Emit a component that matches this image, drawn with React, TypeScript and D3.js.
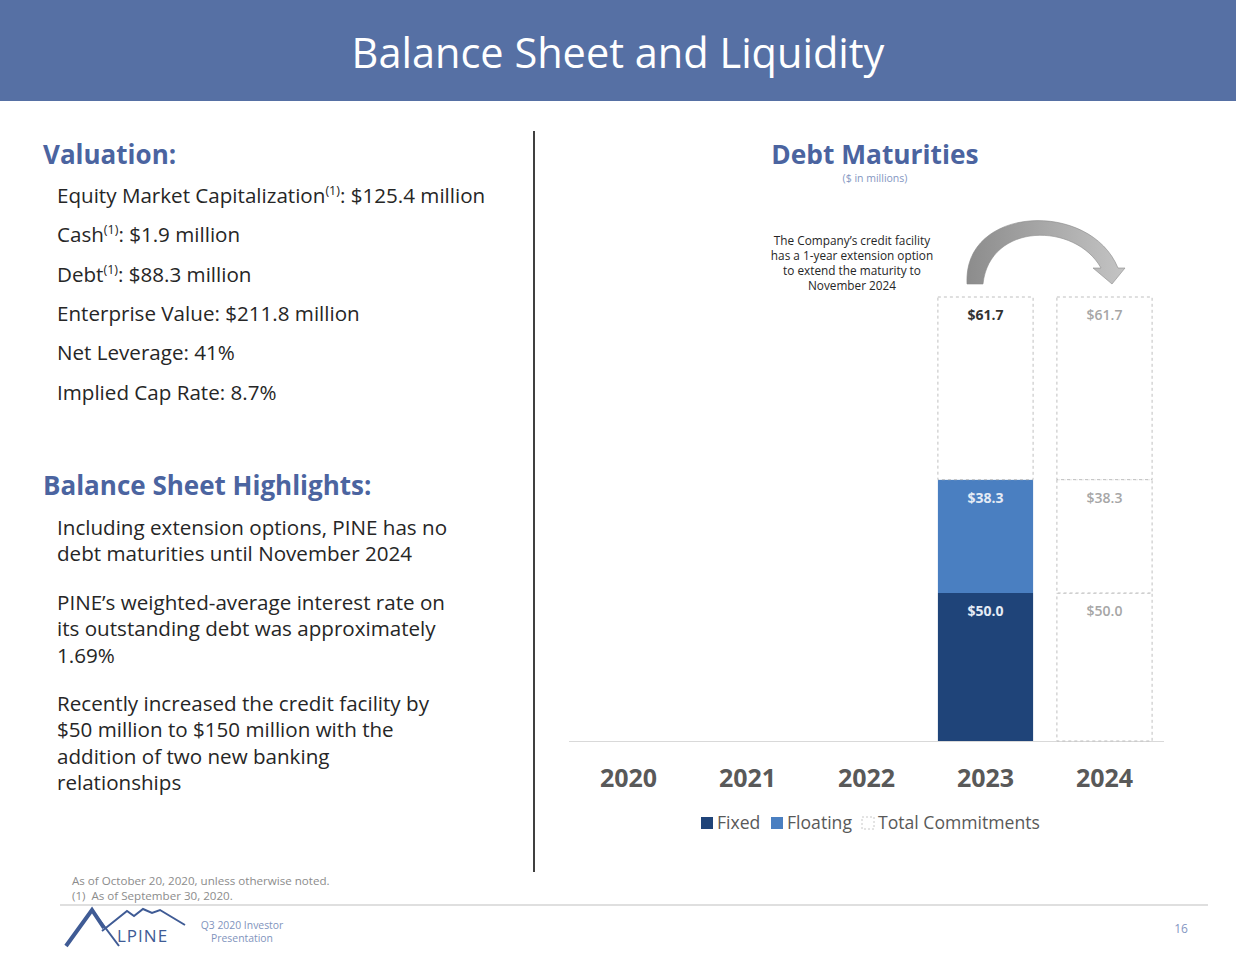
import React from "react";
import * as d3 from "d3";

// debt maturities ($ in millions)
const years = ["2020", "2021", "2022", "2023", "2024"];
const fixed = [0, 0, 0, 50.0, 0];
const floating = [0, 0, 0, 38.3, 0];
const remaining = [0, 0, 0, 61.7, 0];
// same facility shown again in 2024 with the extension option
const extFixed = [0, 0, 0, 0, 50.0];
const extFloating = [0, 0, 0, 0, 38.3];
const extRemaining = [0, 0, 0, 0, 61.7];

const legendItems = ["Fixed", "Floating", "Total Commitments"];

const valuation = [
  { label: "Equity Market Capitalization", sup: true, value: "$125.4 million" },
  { label: "Cash", sup: true, value: "$1.9 million" },
  { label: "Debt", sup: true, value: "$88.3 million" },
  { label: "Enterprise Value", sup: false, value: "$211.8 million" },
  { label: "Net Leverage", sup: false, value: "41%" },
  { label: "Implied Cap Rate", sup: false, value: "8.7%" },
];

const highlights = [
  ["Including extension options, PINE has no", "debt maturities until November 2024"],
  ["PINE\u2019s weighted-average interest rate on", "its outstanding debt was approximately", "1.69%"],
  [
    "Recently increased the credit facility by",
    "$50 million to $150 million with the",
    "addition of two new banking",
    "relationships",
  ],
];

const noteLines = [
  "The Company\u2019s credit facility",
  "has a 1-year extension option",
  "to extend the maturity to",
  "November 2024",
];

const W = 1236;
const H = 956;
const FONT = "'Open Sans', 'Noto Sans', sans-serif";
const NAVY = "#4b64a0";
const DARK = "#1f4479";
const MID = "#4a7fc1";

const keys = ["fixed", "extFixed", "floating", "extFloating", "remaining", "extRemaining"];
const segStyle: Record<string, { fill: string; dashed: boolean; label: string; weight: number }> = {
  fixed: { fill: DARK, dashed: false, label: "#e4ebf5", weight: 700 },
  floating: { fill: MID, dashed: false, label: "#e4ebf5", weight: 700 },
  remaining: { fill: "#fff", dashed: true, label: "#333", weight: 700 },
  extFixed: { fill: "#fff", dashed: true, label: "#a6a6a6", weight: 600 },
  extFloating: { fill: "#fff", dashed: true, label: "#a6a6a6", weight: 600 },
  extRemaining: { fill: "#fff", dashed: true, label: "#a6a6a6", weight: 600 },
};

export default function App() {
  const rows = years.map((year, i) => ({
    year,
    fixed: fixed[i],
    floating: floating[i],
    remaining: remaining[i],
    extFixed: extFixed[i],
    extFloating: extFloating[i],
    extRemaining: extRemaining[i],
  }));

  const x = d3
    .scaleBand()
    .domain(years)
    .range([569, 1164])
    .paddingInner(0.2)
    .paddingOuter(0.1);
  const y = d3.scaleLinear().domain([0, 150]).range([741, 297]);
  const series = d3.stack<any>().keys(keys)(rows);

  // arrow from the 2023 column to the 2024 column
  const ax0 = x("2023")! + x.bandwidth() / 2;
  const ax1 = x("2024")! + x.bandwidth() / 2;
  const arrowPath = `M ${ax0 - 18.5} 284 C ${ax0 - 23} 205, ${ax1 - 14} 200, ${ax1 + 13.5} 268
    L ${ax1 + 20.5} 268 L ${ax1 + 7.5} 284 L ${ax1 - 11.5} 268 L ${ax1 - 3.5} 268
    C ${ax1 - 29} 222, ${ax0 + 4} 222, ${ax0 - 2.5} 284 Z`;

  const legendX = [701, 771, 862];

  return (
    <svg width={W} height={H} style={{ position: "absolute", left: 0, top: 0 }} fontFamily={FONT}>
      <defs>
        <linearGradient id="arrowGrad" x1="0" x2="1" y1="0" y2="0">
          <stop offset="0%" stopColor="#8c8c8c" />
          <stop offset="100%" stopColor="#c4c4c4" />
        </linearGradient>
      </defs>
      <rect width={W} height={H} fill="#fff" />
      {/* header */}
      <rect width={W} height={101} fill="#5670a4" />
      <text x={618} y={68} textAnchor="middle" fill="#fff" fontSize={41.5}>
        Balance Sheet and Liquidity
      </text>

      {/* divider */}
      <line x1={534} x2={534} y1={131} y2={872} stroke="#404040" strokeWidth={2} />

      {/* left column */}
      <text x={43} y={164} fill={NAVY} fontSize={26} fontWeight={700}>
        Valuation:
      </text>
      {valuation.map((v, i) => (
        <text key={v.label} x={57} y={203 + i * 39.3} fill="#262626" fontSize={20.6}>
          {v.label}
          {v.sup ? (
            <>
              <tspan fontSize={12.5} dy={-8}>(1)</tspan>
              <tspan dy={8}>: {v.value}</tspan>
            </>
          ) : (
            <tspan>: {v.value}</tspan>
          )}
        </text>
      ))}

      <text x={43} y={495} fill={NAVY} fontSize={26} fontWeight={700}>
        Balance Sheet Highlights:
      </text>
      {highlights.map((para, pi) =>
        para.map((line, li) => (
          <text
            key={pi + "-" + li}
            x={57}
            y={[535, 610, 711][pi] + li * 26.3}
            fill="#262626"
            fontSize={20.6}
          >
            {line}
          </text>
        ))
      )}

      {/* chart */}
      <text x={875} y={164} textAnchor="middle" fill={NAVY} fontSize={26.3} fontWeight={700}>
        Debt Maturities
      </text>
      <text x={875} y={182} textAnchor="middle" fill="#8496c2" fontSize={10.5}>
        ($ in millions)
      </text>

      {noteLines.map((l, i) => (
        <text key={l} x={852} y={245 + i * 15} textAnchor="middle" fill="#262626" fontSize={11.8}>
          {l}
        </text>
      ))}
      <path d={arrowPath} fill="url(#arrowGrad)" stroke="#8a8a8a" strokeWidth={0.6} />

      <line x1={569} x2={1164} y1={741.5} y2={741.5} stroke="#d9d9d9" strokeWidth={1} />

      {series.map((s) =>
        s.map((d, i) => {
          const val = d[1] - d[0];
          if (val <= 0) return null;
          const st = segStyle[s.key];
          const x0 = x(years[i])!;
          const yt = y(d[1]);
          const h = y(d[0]) - y(d[1]);
          return (
            <g key={s.key + i}>
              <rect
                x={x0}
                y={yt}
                width={x.bandwidth()}
                height={h}
                fill={st.fill}
                stroke={st.dashed ? "#bfbfbf" : "none"}
                strokeDasharray={st.dashed ? "3,3" : undefined}
                strokeWidth={1}
              />
              <text
                x={x0 + x.bandwidth() / 2}
                y={yt + 23}
                textAnchor="middle"
                fill={st.label}
                fontSize={14}
                fontWeight={st.weight}
              >
                ${val.toFixed(1)}
              </text>
            </g>
          );
        })
      )}

      {years.map((yr) => (
        <text
          key={yr}
          x={x(yr)! + x.bandwidth() / 2}
          y={787}
          textAnchor="middle"
          fill="#595959"
          fontSize={25}
          fontWeight={700}
        >
          {yr}
        </text>
      ))}

      {legendItems.map((item, i) => (
        <g key={item}>
          <rect
            x={legendX[i]}
            y={817}
            width={12}
            height={12}
            fill={i === 0 ? DARK : i === 1 ? MID : "#fff"}
            stroke={i === 2 ? "#c8c8c8" : "none"}
            strokeDasharray={i === 2 ? "2,2" : undefined}
          />
          <text x={legendX[i] + 16} y={829} fill="#595959" fontSize={17.6}>
            {item}
          </text>
        </g>
      ))}

      {/* footer */}
      <text x={72} y={885} fill="#8c8c8c" fontSize={11.6}>
        As of October 20, 2020, unless otherwise noted.
      </text>
      <text x={72} y={900} fill="#8c8c8c" fontSize={11.6} xmlSpace="preserve">
        (1)  As of September 30, 2020.
      </text>
      <line x1={60} x2={1208} y1={905} y2={905} stroke="#bfbfbf" strokeWidth={1.2} />

      <g fill="none" stroke="#3f5b95" strokeLinejoin="miter">
        <path d="M 66 946 L 92 910 L 104 928" strokeWidth={4} />
        <path d="M 92 910 L 119 946" strokeWidth={2} />
        <path d="M 102 931 L 127 911 L 134 916 L 143 909 L 152 913 L 160 910 L 185 925" strokeWidth={2} />
      </g>
      <text x={117} y={942} fill="#3f5b95" fontSize={17} letterSpacing={1}>
        LPINE
      </text>
      <text x={242} y={929} textAnchor="middle" fill="#7f94bd" fontSize={10.4}>
        Q3 2020 Investor
      </text>
      <text x={242} y={942} textAnchor="middle" fill="#7f94bd" fontSize={10.4}>
        Presentation
      </text>
      <text x={1181} y={933} textAnchor="middle" fill="#8496c2" fontSize={12}>
        16
      </text>
    </svg>
  );
}
